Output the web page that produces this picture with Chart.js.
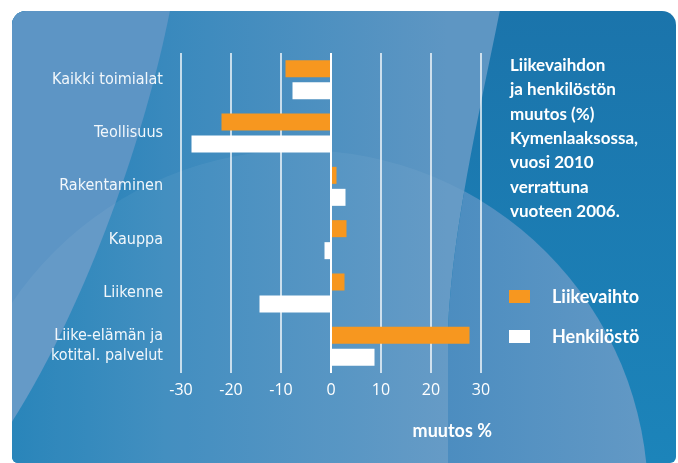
<!DOCTYPE html>
<html>
<head>
<meta charset="utf-8">
<script src="https://cdn.jsdelivr.net/npm/chart.js@4.4.1/dist/chart.umd.min.js"></script>
<style>
  html, body { margin: 0; padding: 0; background: #fff; }
  #wrap { width: 678px; height: 463px; }
</style>
</head>
<body>
<div id="wrap"><canvas id="muutos"></canvas></div>
<script>
// Data luettu kuvasta
const toimialat = ["Kaikki toimialat", "Teollisuus", "Rakentaminen", "Kauppa", "Liikenne", ["Liike-elämän ja", "kotital. palvelut"]];
const liikevaihto = [-9.1, -21.9, 1.1, 3.1, 2.7, 27.7];
const henkilosto = [-7.7, -27.9, 2.9, -1.3, -14.3, 8.7];
const xTicks = [-30, -20, -10, 0, 10, 20, 30];
const otsikko = ["Liikevaihdon", "ja henkilöstön", "muutos (%)", "Kymenlaaksossa,", "vuosi 2010", "verrattuna", "vuoteen 2006."];
const akseliNimi = "muutos %";

// Taustan sininen kuviointi
const taustaPlugin = {
  id: "tausta",
  beforeDraw(chart) {
    const ctx = chart.ctx;
    ctx.save();
    ctx.beginPath();
    ctx.roundRect(12, 11, 664, 452, [14, 14, 6, 6]);
    ctx.clip();

    // oikea tumma kaista
    let g = ctx.createLinearGradient(0, 11, 0, 463);
    g.addColorStop(0, "#1b74ab");
    g.addColorStop(1, "#1c84ba");
    ctx.fillStyle = g;
    ctx.fillRect(0, 0, 678, 463);

    const keski = new Path2D();
    keski.moveTo(0, 0);
    keski.lineTo(502, 0);
    keski.bezierCurveTo(480, 110, 452, 230, 448, 330);
    keski.lineTo(448, 470);
    keski.lineTo(0, 470);
    keski.closePath();
    g = ctx.createLinearGradient(12, 0, 448, 0);
    g.addColorStop(0, "#1e7fb7");
    g.addColorStop(0.35, "#3989bd");
    g.addColorStop(1, "#5e96c3");
    ctx.fillStyle = g;
    ctx.fill(keski);

    // vasen vaalea kaari
    ctx.beginPath();
    ctx.moveTo(0, 0);
    ctx.lineTo(172, 0);
    ctx.bezierCurveTo(150, 120, 90, 300, 10, 425);
    ctx.lineTo(0, 440);
    ctx.closePath();
    ctx.fillStyle = "#5d95c5";
    ctx.fill();

    // iso vaalea ympyrä
    ctx.save();
    ctx.beginPath();
    ctx.arc(300, 498, 348, 0, Math.PI * 2);
    ctx.clip();
    ctx.fillStyle = "rgba(255,255,255,0.05)";
    ctx.fill(keski);
    const oikea = new Path2D();
    oikea.moveTo(502, 0);
    oikea.bezierCurveTo(480, 110, 452, 230, 448, 330);
    oikea.lineTo(448, 470);
    oikea.lineTo(700, 470);
    oikea.lineTo(700, 0);
    oikea.closePath();
    g = ctx.createLinearGradient(448, 0, 650, 0);
    g.addColorStop(0, "#4c8dc0");
    g.addColorStop(1, "#6399c5");
    ctx.fillStyle = g;
    ctx.fill(oikea);
    ctx.restore();

    ctx.restore();
  },
  afterDraw(chart) {
    const ctx = chart.ctx;
    ctx.save();
    ctx.fillStyle = "#ffffff";
    ctx.textAlign = "left";
    ctx.textBaseline = "alphabetic";
    ctx.font = "bold 17px Lato";
    otsikko.forEach((rivi, i) => ctx.fillText(rivi, 510, 71 + i * 24.3));

    // selite
    const ys = [297, 337];
    chart.data.datasets.forEach((ds, i) => {
      ctx.fillStyle = ds.backgroundColor;
      ctx.fillRect(509, ys[i] - 7, 21, 13);
      ctx.fillStyle = "#ffffff";
      ctx.textBaseline = "middle";
      ctx.font = "bold 18px Lato";
      ctx.fillText(ds.label, 552, ys[i]);
    });

    ctx.textAlign = "right";
    ctx.textBaseline = "middle";
    ctx.font = "bold 18px Lato";
    ctx.fillText(akseliNimi, 492, 431);
    ctx.restore();
  },
};

const config = {
  type: "bar",
  data: {
    labels: toimialat,
    datasets: [
      { label: "Liikevaihto", data: liikevaihto, backgroundColor: "#f7971f" },
      { label: "Henkilöstö", data: henkilosto, backgroundColor: "#ffffff" },
    ],
  },
  options: {
    indexAxis: "y",
    responsive: true,
    maintainAspectRatio: false,
    animation: false,
    categoryPercentage: 0.825,
    barPercentage: 0.773,
    layout: { padding: { left: 0, right: 197, top: 53, bottom: 50 } },
    plugins: {
      legend: { display: false },
      tooltip: { enabled: false },
    },
    scales: {
      x: {
        min: -30,
        max: 30,
        afterBuildTicks(scale) {
          scale.ticks = xTicks.map((v) => ({ value: v }));
        },
        afterFit(scale) {
          scale.height = 40;
        },
        border: { display: false },
        grid: {
          drawTicks: false,
          lineWidth: 2,
          color: (c) => (c.tick && c.tick.value === 0 ? "#ffffff" : "rgba(255,255,255,0.7)"),
        },
        ticks: {
          color: "#ffffff",
          padding: 8,
          font: { family: "'Open Sans'", size: 16 },
        },
      },
      y: {
        afterFit(scale) {
          scale.width = 181;
        },
        border: { display: false },
        grid: { display: false, drawTicks: false },
        ticks: {
          color: "#f2f7fb",
          padding: 18,
          font: { family: "'Liberation Sans Narrow', 'DejaVu Sans Condensed', sans-serif", size: 16, lineHeight: 1.25 },
        },
      },
    },
  },
  plugins: [taustaPlugin],
};

const muutosKaavio = new Chart(document.getElementById("muutos"), config);
</script>
</body>
</html>
